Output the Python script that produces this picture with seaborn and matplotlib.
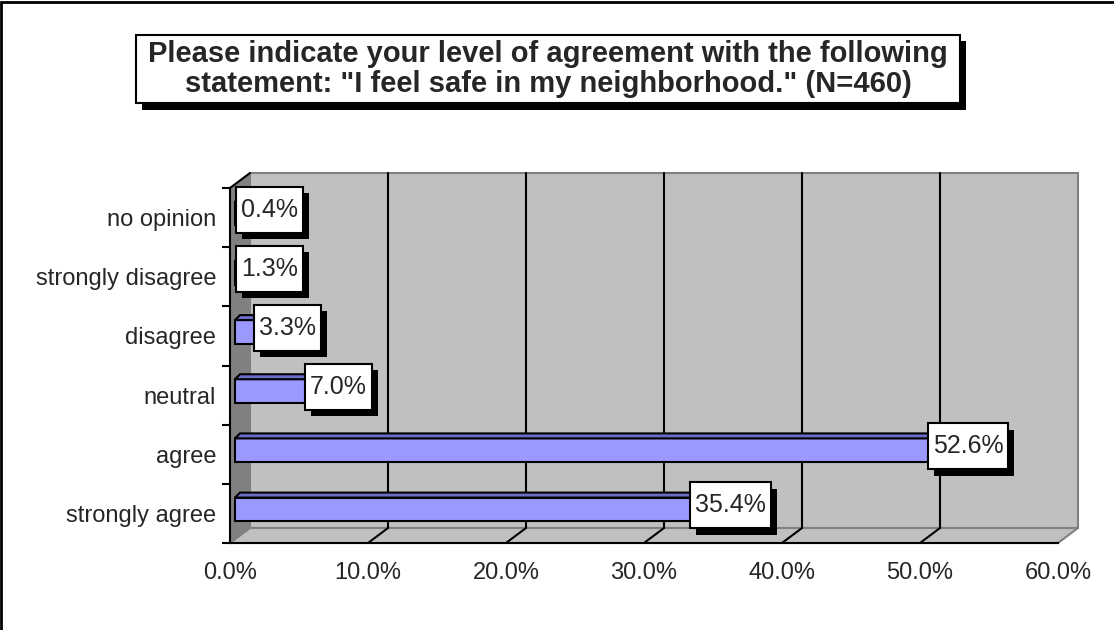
import matplotlib
matplotlib.use("Agg")
import matplotlib.pyplot as plt
import matplotlib.patheffects as pe
from matplotlib.patches import Rectangle, Polygon
from matplotlib.ticker import FuncFormatter, FixedLocator
from matplotlib.transforms import IdentityTransform
import seaborn as sns
import pandas as pd

# ---- data (percent of respondents) ----
categories = ["no opinion", "strongly disagree", "disagree", "neutral", "agree", "strongly agree"]
percents = [0.4, 1.3, 3.3, 7.0, 52.6, 35.4]
x_ticks = [0, 10, 20, 30, 40, 50, 60]
title = ('Please indicate your level of agreement with the following\n'
         'statement: "I feel safe in my neighborhood." (N=460)')

df = pd.DataFrame({"response": categories, "pct": percents})

sns.set_theme(style="white")
plt.rcParams["font.family"] = ["Liberation Sans", "DejaVu Sans"]

WALL = "#C0C0C0"
SIDE = "#808080"
BAR = "#9999FF"
BAR_TOP = "#6B6BC8"

fig = plt.figure(figsize=(11.14, 6.3), dpi=100)
ax = fig.add_axes([230 / 1114, 87 / 630, 828 / 1114, 355 / 630])
ax.set_facecolor("none")

sns.barplot(data=df, x="pct", y="response", order=categories, orient="h",
            color=BAR, width=0.4, edgecolor="black", linewidth=1.5,
            saturation=1, ax=ax, zorder=5)

ax.set_xlim(0, 60)
ax.set_ylim(len(categories) - 0.5, -0.5)

# depth of the fake 3-D box, converted from pixels to data units
px_x = ax.bbox.width / 60
px_y = ax.bbox.height / len(categories)
DX, DY = 20 / px_x, -15 / px_y
y_bot, y_top = len(categories) - 0.5, -0.5

# back wall, left wall, floor
ax.add_patch(Rectangle((DX, y_bot + DY), 60, y_top - y_bot, facecolor=WALL,
                       edgecolor=SIDE, lw=1.5, zorder=0, clip_on=False))
ax.add_patch(Polygon([(0, y_bot), (0, y_top), (DX, y_top + DY), (DX, y_bot + DY)],
                     facecolor=SIDE, edgecolor="none", zorder=1, clip_on=False))
ax.add_patch(Polygon([(0, y_bot), (60, y_bot), (60 + DX, y_bot + DY), (DX, y_bot + DY)],
                     facecolor=WALL, edgecolor=SIDE, lw=1.5, zorder=1, clip_on=False))
ax.plot([0, DX], [y_top, y_top + DY], color="black", lw=1.5, zorder=2, clip_on=False)

# gridlines on the back wall and floor
for t in x_ticks[1:-1]:
    ax.plot([t + DX, t + DX], [y_bot + DY, y_top + DY], color="black", lw=1.5, zorder=2, clip_on=False)
    ax.plot([t, t + DX], [y_bot, y_bot + DY], color="black", lw=1.5, zorder=2, clip_on=False)

# shift bars to mid depth and give them a top face
bx, by = 5 / px_x, -4 / px_y
tx, ty = 5 / px_x, -5 / px_y
for bar in ax.patches:
    if bar.get_zorder() != 5:
        continue
    x0, y0, w, h = bar.get_x(), bar.get_y(), bar.get_width(), bar.get_height()
    bar.set_x(x0 + bx)
    bar.set_y(y0 + by)
    yt = min(y0, y0 + h) + by
    yb = max(y0, y0 + h) + by
    ax.add_patch(Polygon([(x0 + bx, yt), (x0 + bx + w, yt), (x0 + bx + w + tx, yt + ty),
                          (x0 + bx + tx, yt + ty)], facecolor=BAR_TOP, edgecolor="black",
                         lw=1.5, zorder=5, clip_on=False))
    ax.add_patch(Polygon([(x0 + bx + w, yt), (x0 + bx + w + tx, yt + ty),
                          (x0 + bx + w + tx, yb + ty), (x0 + bx + w, yb)],
                         facecolor=BAR_TOP, edgecolor="black", lw=1.5, zorder=5, clip_on=False))

# data labels
labels = []
for i, v in enumerate(percents):
    t = ax.annotate(f"{v:.1f}%", xy=(max(v, 2.0), i), xytext=(12, 8),
                    textcoords="offset pixels", ha="center", va="center",
                    fontsize=18, zorder=12, annotation_clip=False)
    labels.append(t)

# axes styling
for s in ["top", "right"]:
    ax.spines[s].set_visible(False)
for s in ["left", "bottom"]:
    ax.spines[s].set_color("black")
    ax.spines[s].set_linewidth(1.5)
    ax.spines[s].set_zorder(3)
ax.set_xticks(x_ticks)
ax.xaxis.set_major_formatter(FuncFormatter(lambda v, p: f"{v:.1f}%"))
ax.tick_params(axis="x", direction="out", length=6, width=1.5, color="black",
               labelsize=17, pad=8)
ax.yaxis.set_minor_locator(FixedLocator([i - 0.5 for i in range(len(categories) + 1)]))
ax.tick_params(axis="y", which="major", length=0, labelsize=17, pad=10)
ax.tick_params(axis="y", which="minor", direction="out", length=6, width=1.5, color="black", left=True)
ax.set_xlabel("")
ax.set_ylabel("")
ax.grid(False)

# title
tt = fig.text(548 / 1114, 1 - 69 / 630, title, ha="center", va="center",
              fontsize=21, fontweight="bold", linespacing=1.12, zorder=12)

# white boxes with hard shadow around labels and title
shadow = [pe.withSimplePatchShadow(offset=(4.5, -4.5), shadow_rgbFace="black", alpha=1)]
fig.canvas.draw()
renderer = fig.canvas.get_renderer()
for t in labels:
    bb = t.get_window_extent(renderer)
    box = Rectangle((bb.x0 - 5, bb.y0 - 11), bb.width + 10, bb.height + 22,
                    transform=IdentityTransform(), facecolor="white", edgecolor="black",
                    lw=1.5, zorder=11, clip_on=False)
    box.set_path_effects(shadow)
    ax.add_patch(box)
bb = tt.get_window_extent(renderer)
tbox = Rectangle((bb.x0 - 12, bb.y0 - 5), bb.width + 24, bb.height + 10,
                 transform=IdentityTransform(), facecolor="white", edgecolor="black",
                 lw=1.5, zorder=11)
tbox.set_path_effects(shadow)
fig.add_artist(tbox)

# chart area border (only top and left edges visible in the frame)
fig.patches.append(Rectangle((1 / 1114, -0.5), 2, 0.5 + 628.5 / 630, transform=fig.transFigure,
                             fill=False, edgecolor="black", lw=2))

fig.savefig("out.png", dpi=100)
